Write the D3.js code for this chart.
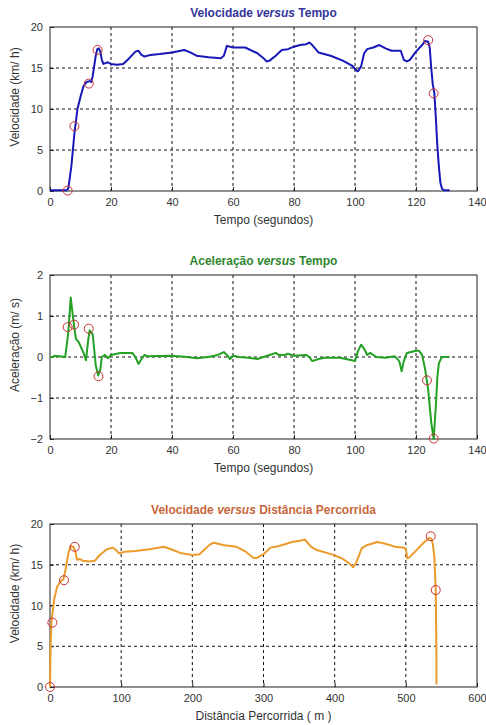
<!DOCTYPE html>
<html>
<head>
<meta charset="utf-8">
<script src="https://cdn.jsdelivr.net/npm/d3@7"></script>
<style>
  body { margin: 0; background: #fff; }
  svg { display: block; font-family: "Liberation Sans", Arial, sans-serif; }
</style>
</head>
<body>
<svg id="chart" width="486" height="725"></svg>
<script>
// velocity vs time (s, km/h)
var velTime = [0, 2, 5.5, 6, 7, 8, 8.5, 9, 10, 11, 12, 13, 13.5, 14, 15, 15.5, 16, 16.5, 17, 17.5, 19, 20, 22, 24, 26, 28, 29, 30, 31, 33, 36, 40, 44, 46, 48, 52, 56, 57, 58, 60, 64, 68, 70, 71, 72, 74, 76, 78, 80, 82, 84, 85, 86, 88, 92, 96, 99, 100.5, 101, 102, 103, 104, 106, 108, 110, 112, 115, 116, 117, 118, 120, 122, 123, 124, 124.5, 125, 125.5, 126, 126.5, 127, 127.5, 128, 128.5, 129, 131];
var velValue = [0.1, 0.1, 0.1, 0.3, 3, 7, 8.5, 10, 11.5, 12.8, 13.3, 13.4, 13.3, 14, 16.5, 17.3, 17.4, 17, 16, 15.5, 15.7, 15.5, 15.4, 15.5, 16.2, 17, 17.1, 16.6, 16.4, 16.6, 16.7, 16.9, 17.2, 16.9, 16.5, 16.3, 16.2, 16.5, 17.7, 17.5, 17.5, 16.8, 16.2, 15.8, 15.9, 16.5, 17.2, 17.3, 17.6, 17.8, 17.9, 18.1, 17.8, 16.9, 16.5, 15.9, 15.3, 14.7, 14.6, 15.2, 16.8, 17.3, 17.5, 17.8, 17.4, 17.1, 17.1, 16, 15.8, 16, 17, 17.8, 18.3, 18.2, 17.5, 15, 13, 12, 9, 5.5, 3, 1, 0.3, 0.1, 0.1];
var velMarkT = [5.8, 8.0, 12.7, 15.6, 124.0, 125.8];
var velMarkV = [0.05, 7.9, 13.1, 17.2, 18.4, 11.9];

// acceleration vs time (s, m/s)
var accTime = [0, 1, 1.5, 3, 5, 6, 6.8, 7.5, 8, 8.5, 9.5, 11, 11.8, 12.5, 13, 14, 15, 15.8, 16.5, 17, 18, 19, 20, 23, 27, 28, 29, 30, 31, 32, 40, 45, 48, 52, 55, 57, 58, 59, 60, 62, 65, 68, 70, 72, 74, 75, 77, 78, 80, 84, 85, 86, 88, 90, 95, 99, 100, 101, 102, 103, 104, 105, 107, 110, 113, 114.5, 115.3, 116, 117, 120, 121, 122, 123, 124, 125, 125.8, 126.5, 127, 127.5, 128.5, 131];
var accValue = [0, 0, 0.03, 0.02, 0, 0.6, 1.45, 1.0, 0.7, 0.45, 0.35, 0.1, -0.08, 0.4, 0.65, 0.55, -0.2, -0.45, -0.3, 0, 0.05, -0.03, 0.05, 0.1, 0.1, 0, -0.17, -0.05, 0.05, 0.02, 0.03, 0, -0.03, 0, 0.05, 0.12, 0.05, -0.05, 0.03, 0, -0.02, -0.05, 0, 0.05, 0.1, 0.05, 0.05, 0.08, 0.03, 0.05, 0, -0.1, -0.05, -0.02, -0.02, -0.08, -0.1, 0.15, 0.3, 0.2, 0.05, 0.1, 0, -0.02, 0.02, -0.1, -0.35, -0.1, 0.1, 0.15, 0.15, 0.05, -0.3, -0.8, -1.6, -2.0, -1.2, -0.5, -0.15, 0, 0];
var accMarkT = [5.8, 7.9, 12.7, 15.9, 123.6, 125.8];
var accMarkA = [0.73, 0.79, 0.69, -0.47, -0.57, -1.99];

// velocity vs distance (m, km/h)
var distMeters = [0, 0.5, 1, 2, 4, 6, 10, 15, 19, 22, 26, 29, 33, 36, 38, 42, 46, 55, 63, 70, 80, 88, 93, 97, 105, 120, 140, 160, 170, 185, 200, 210, 225, 230, 245, 262, 275, 285, 290, 300, 310, 322, 340, 355, 358, 367, 375, 395, 410, 420, 426, 430, 438, 445, 460, 470, 485, 498, 500, 502, 505, 515, 525, 533, 536, 538, 540, 541, 542, 542.5, 543, 543];
var distVel = [0, 3, 5.5, 7.9, 9.5, 10.8, 12.3, 13, 13.2, 14.5, 16.5, 17.3, 17.2, 16.5, 15.6, 15.7, 15.5, 15.4, 15.5, 16.2, 16.9, 17.1, 16.8, 16.4, 16.6, 16.7, 16.9, 17.2, 16.9, 16.4, 16.2, 16.3, 17.5, 17.7, 17.4, 17.2, 16.6, 15.9, 15.8, 16.3, 17.1, 17.3, 17.8, 18.0, 18.1, 17.2, 16.8, 16.3, 15.8, 15.2, 14.7, 15.2, 17.0, 17.4, 17.8, 17.6, 17.2, 17.1, 16.9, 15.8, 15.9, 16.8, 17.7, 18.3, 18.2, 17.5, 16, 14, 11.9, 8, 4, 0.3];
var distMarkD = [0, 3.3, 19.7, 34.7, 535, 542];
var distMarkV = [0, 7.9, 13.1, 17.2, 18.5, 11.9];

var xTicksTime = [0, 20, 40, 60, 80, 100, 120, 140];
var xTicksDist = [0, 100, 200, 300, 400, 500, 600];
var yTicksVel = [0, 5, 10, 15, 20];
var yTicksAcc = [-2, -1, 0, 1, 2];

var svg = d3.select("#chart");
var left = 50, right = 477;

function drawPanel(opts) {
    var x = d3.scaleLinear().domain(opts.xDomain).range([left, right]);
    var y = d3.scaleLinear().domain(opts.yDomain).range([opts.bottom, opts.top]);
    var g = svg.append("g");

    // dashed grid
    g.selectAll(".vgrid").data(opts.xTicks.slice(1, -1)).enter().append("line")
        .attr("x1", d => x(d)).attr("x2", d => x(d))
        .attr("y1", opts.top).attr("y2", opts.bottom)
        .attr("stroke", "#111").attr("stroke-width", 1)
        .attr("stroke-dasharray", "3,3");
    g.selectAll(".hgrid").data(opts.yTicks.slice(1, -1)).enter().append("line")
        .attr("x1", left).attr("x2", right)
        .attr("y1", d => y(d)).attr("y2", d => y(d))
        .attr("stroke", "#111").attr("stroke-width", 1)
        .attr("stroke-dasharray", "3,3");

    // axes with inward ticks
    var fmt = d3.format("d");
    var xAxis = g.append("g").attr("transform", "translate(0," + opts.bottom + ")")
        .call(d3.axisBottom(x).tickValues(opts.xTicks).tickFormat(fmt).tickSizeInner(-4).tickSizeOuter(0).tickPadding(7));
    var yAxis = g.append("g").attr("transform", "translate(" + left + ",0)")
        .call(d3.axisLeft(y).tickValues(opts.yTicks).tickFormat(fmt).tickSizeInner(-4).tickSizeOuter(0).tickPadding(7));
    [xAxis, yAxis].forEach(function(a) {
        a.select(".domain").remove();
        a.selectAll("line").attr("stroke", "#222");
        a.selectAll("text").attr("font-size", "11px").attr("fill", "#333")
            .attr("font-family", "'Liberation Sans', Arial, sans-serif");
    });

    // frame
    g.append("rect")
        .attr("x", left).attr("y", opts.top)
        .attr("width", right - left).attr("height", opts.bottom - opts.top)
        .attr("fill", "none").attr("stroke", "#222").attr("stroke-width", 1);

    // data line
    var pts = opts.xs.map((d, i) => [d, opts.ys[i]]);
    g.append("path")
        .datum(pts)
        .attr("fill", "none")
        .attr("stroke", opts.color)
        .attr("stroke-width", 2)
        .attr("stroke-linejoin", "round")
        .attr("d", d3.line().x(d => x(d[0])).y(d => y(d[1])));

    // markers
    var marks = opts.mx.map((d, i) => [d, opts.my[i]]);
    g.selectAll(".mark").data(marks).enter().append("circle")
        .attr("cx", d => x(d[0])).attr("cy", d => y(d[1]))
        .attr("r", 4.5)
        .attr("fill", "none").attr("stroke", "#c83232").attr("stroke-width", 1);

    // title
    var t = g.append("text")
        .attr("x", (left + right) / 2).attr("y", opts.top - 10)
        .attr("text-anchor", "middle")
        .attr("font-size", "12px").attr("font-weight", "bold")
        .attr("fill", opts.titleColor);
    t.append("tspan").text(opts.title[0] + " ");
    t.append("tspan").attr("font-style", "italic").text("versus");
    t.append("tspan").text(" " + opts.title[1]);

    // axis labels
    g.append("text")
        .attr("x", (left + right) / 2).attr("y", opts.bottom + 33)
        .attr("text-anchor", "middle").attr("font-size", "12px").attr("fill", "#333")
        .text(opts.xLabel);
    var cy = (opts.top + opts.bottom) / 2 - 12;
    g.append("text")
        .attr("transform", "translate(19," + cy + ") rotate(-90)")
        .attr("text-anchor", "middle").attr("font-size", "12px").attr("fill", "#333")
        .text(opts.yLabel);
}

drawPanel({
    top: 27, bottom: 191, xDomain: [0, 140], yDomain: [0, 20],
    xTicks: xTicksTime, yTicks: yTicksVel,
    xs: velTime, ys: velValue, mx: velMarkT, my: velMarkV,
    color: "#1818b8", titleColor: "#35359a",
    title: ["Velocidade", "Tempo"],
    xLabel: "Tempo (segundos)", yLabel: "Velocidade (km/ h)"
});

drawPanel({
    top: 275, bottom: 439, xDomain: [0, 140], yDomain: [-2, 2],
    xTicks: xTicksTime, yTicks: yTicksAcc,
    xs: accTime, ys: accValue, mx: accMarkT, my: accMarkA,
    color: "#24a024", titleColor: "#2f862f",
    title: ["Aceleração", "Tempo"],
    xLabel: "Tempo (segundos)", yLabel: "Aceleração (m/ s)"
});

drawPanel({
    top: 524, bottom: 687, xDomain: [0, 600], yDomain: [0, 20],
    xTicks: xTicksDist, yTicks: yTicksVel,
    xs: distMeters, ys: distVel, mx: distMarkD, my: distMarkV,
    color: "#eb9b2c", titleColor: "#c8673c",
    title: ["Velocidade", "Distância Percorrida"],
    xLabel: "Distância Percorrida ( m )", yLabel: "Velocidade (km/ h)"
});
</script>
</body>
</html>
